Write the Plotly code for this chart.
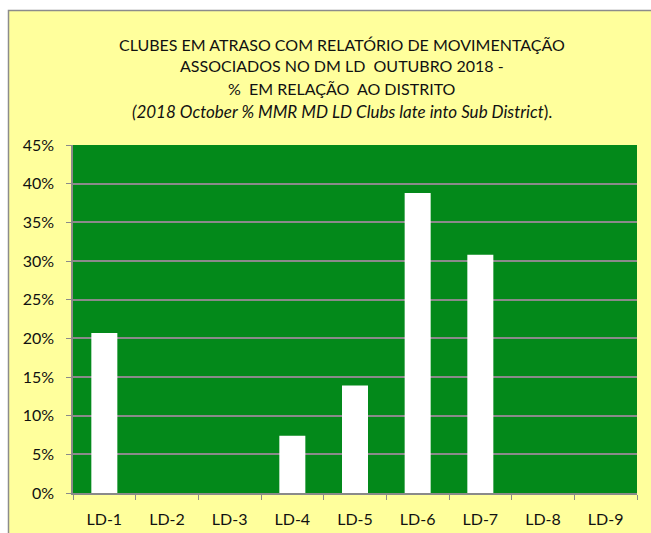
import plotly.graph_objects as go

categories = ["LD-1", "LD-2", "LD-3", "LD-4", "LD-5", "LD-6", "LD-7", "LD-8", "LD-9"]
values = [0.207, 0, 0, 0.074, 0.139, 0.388, 0.308, 0, 0]
title_lines = [
    "CLUBES EM ATRASO COM RELATÓRIO DE MOVIMENTAÇÃO",
    "ASSOCIADOS NO DM LD  OUTUBRO 2018 -",
    "%  EM RELAÇÃO  AO DISTRITO",
    "<i>(2018 October % MMR MD LD Clubs late into Sub District</i>).",
]

W, H = 651, 533
L, R, T, B = 73, 637, 145, 493
FONT = "Lato, 'Open Sans', sans-serif"

def px_x(p):
    return (p - L) / (R - L)

def px_y(p):
    return (B - p) / (B - T)

fig = go.Figure()
fig.add_trace(go.Bar(
    x=categories, y=values,
    marker=dict(color="white", line=dict(width=0)),
    hoverinfo="x+y",
))

annotations = []
for i, (line, py) in enumerate(zip(title_lines, [44, 66, 88, 111])):
    annotations.append(dict(
        text=line, x=px_x(342), y=px_y(py), xref="paper", yref="paper",
        xanchor="center", yanchor="middle", showarrow=False,
        font=dict(family=FONT, size=17 if i == 3 else 16, color="#111111"),
    ))

fig.update_layout(
    width=W, height=H,
    margin=dict(l=L, r=W - R, t=T, b=H - B, pad=0, autoexpand=False),
    paper_bgcolor="white",
    plot_bgcolor="#03891a",
    showlegend=False,
    bargap=0.585,
    annotations=annotations,
    shapes=[
        dict(
            type="rect", xref="paper", yref="paper", layer="below",
            x0=px_x(8.5), x1=px_x(700), y0=px_y(600), y1=px_y(10.5),
            fillcolor="#ffff9c", line=dict(color="#8c8c8c", width=1.5),
        ),
        dict(
            type="rect", xref="paper", yref="paper", layer="below",
            x0=0, x1=1, y0=0, y1=1,
            fillcolor="#03891a", line=dict(width=0),
        ),
    ],
    font=dict(family=FONT, size=16, color="#111111"),
)
fig.update_yaxes(
    range=[0, 0.45], dtick=0.05, tickformat=".0%", automargin=False,
    showgrid=True, gridcolor="#8a8a8a", gridwidth=1.5,
    showline=True, linecolor="#8a8a8a", linewidth=1.5,
    ticks="outside", ticklen=5, tickcolor="#8a8a8a", ticklabelstandoff=9,
    zeroline=False, tickfont=dict(size=16),
)
fig.update_xaxes(
    automargin=False,
    showline=True, linecolor="#8a8a8a", linewidth=1.5,
    ticks="outside", ticklen=5, tickcolor="#8a8a8a", tickson="boundaries",
    showgrid=False, tickfont=dict(size=16), ticklabelstandoff=11,
)

fig.write_html(
    "out.html",
    config={"displayModeBar": False},
    post_script="document.body.style.margin='0';document.body.style.overflow='hidden';",
)
